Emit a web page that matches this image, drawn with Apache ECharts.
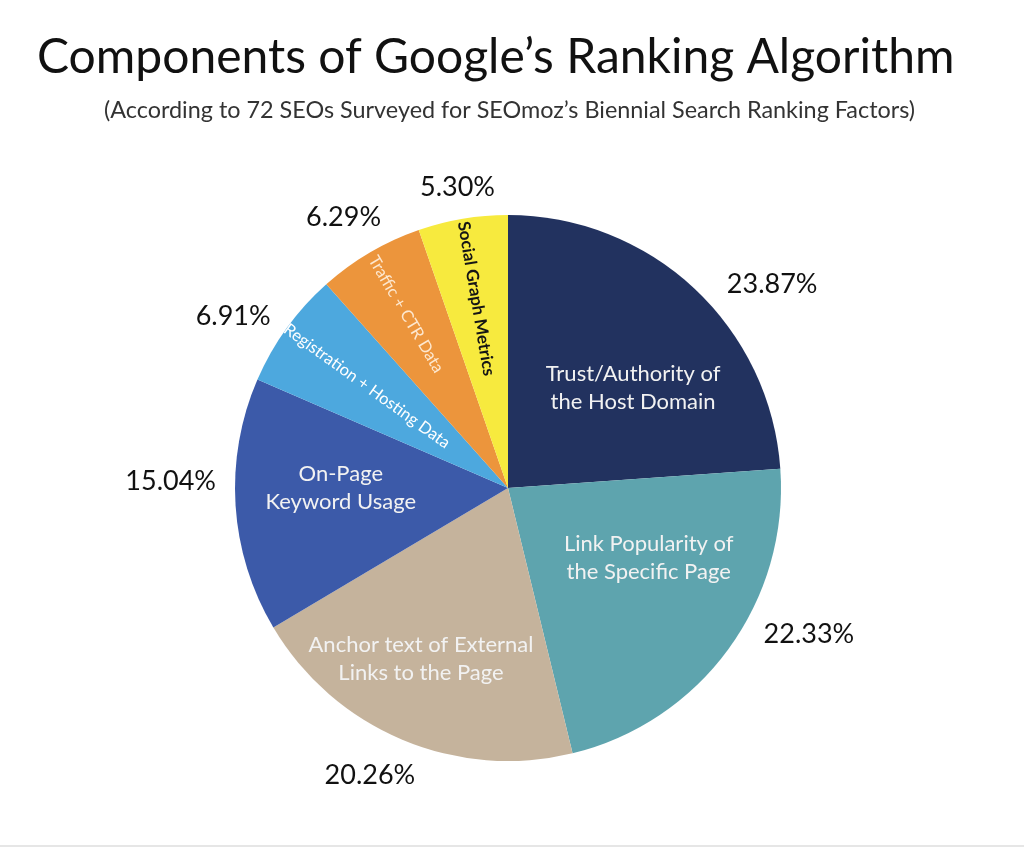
<!DOCTYPE html>
<html><head><meta charset="utf-8">
<script src="https://cdn.jsdelivr.net/npm/echarts@6/dist/echarts.min.js"></script>
<style>html,body{margin:0;padding:0;background:#fff}#c{width:1024px;height:847px}</style>
</head><body><div id="c"></div>
<script>
const categories = [
  'Trust/Authority of\nthe Host Domain',
  'Link Popularity of\nthe Specific Page',
  'Anchor text of External\nLinks to the Page',
  'On-Page\nKeyword Usage',
  'Registration + Hosting Data',
  'Traffic + CTR Data',
  'Social Graph Metrics'
];
const values = [23.87, 22.33, 20.26, 15.04, 6.91, 6.29, 5.30];
const percentLabels = ['23.87%', '22.33%', '20.26%', '15.04%', '6.91%', '6.29%', '5.30%'];

const sliceColors = ['#22325f', '#5ea4ae', '#c5b39c', '#3c5aa9', '#4da8de', '#ec953c', '#f7ea3e'];
const FONT = 'Lato';
// inner label styles (radial labels pushed outward with right padding)
const innerStyle = [
  {rotate: 0, fontSize: 22, color: '#f2f2f2'},
  {rotate: 0, fontSize: 22, color: '#f2f2f2'},
  {rotate: 0, fontSize: 22, color: '#f2f2f2'},
  {rotate: 0, fontSize: 22, color: '#f2f2f2'},
  {rotate: 'radial', fontSize: 16.5, color: '#ffffff', padding: [0, 69, 0, 0]},
  {rotate: 'radial', fontSize: 16.5, color: '#fde8d0', padding: [0, 124, 0, 0]},
  {rotate: 'radial', fontSize: 17, color: '#151515', fontWeight: 'bold', padding: [0, 105, 0, 0]}
];
// label nudges in pixels [dx, dy]
const innerShift = [[30, 2], [28, -12], [-33, 42], [-28, -9], [0, 0], [0, 0], [0, 0]];
const outerShift = [[44, 33], [40, -44], [-13, -10], [-15, -27], [-13, 17], [-1, 8], [3, 18]];
const CENTER = [508, 488];
const R = 273;

const mainData = categories.map((c, i) => ({
  name: c, value: values[i],
  itemStyle: {color: sliceColors[i]},
  label: Object.assign({show: true, position: 'inside', fontFamily: FONT, lineHeight: 28}, innerStyle[i])
}));
const outerData = categories.map((c, i) => ({
  name: percentLabels[i], value: values[i],
  label: {show: true, position: 'inside', formatter: '{b}', fontFamily: FONT, fontSize: 27, color: '#111'}
}));

const chart = echarts.init(document.getElementById('c'), null, {renderer: 'canvas'});
chart.setOption({
  backgroundColor: '#ffffff',
  animation: false,
  title: [
    {text: 'Components of Google\u2019s Ranking Algorithm', left: 32, top: 29,
     textStyle: {fontFamily: FONT, fontSize: 48, fontWeight: 'normal', color: '#111'}},
    {text: '(According to 72 SEOs Surveyed for SEOmoz\u2019s Biennial Search Ranking Factors)', left: 99, top: 94,
     textStyle: {fontFamily: FONT, fontSize: 23.4, fontWeight: 'normal', color: '#333'}}
  ],
  graphic: [{type: 'rect', left: 0, bottom: 0, shape: {width: 1024, height: 2}, style: {fill: '#e6e6e6'}}],
  series: [
    {type: 'pie', center: CENTER, radius: [0, R], startAngle: 90, clockwise: true,
     avoidLabelOverlap: false, labelLine: {show: false}, emphasis: {disabled: true},
     itemStyle: {borderWidth: 0}, data: mainData, z: 2,
     labelLayout: p => ({dx: innerShift[p.dataIndex][0], dy: innerShift[p.dataIndex][1], hideOverlap: false})},
    {type: 'pie', center: CENTER, radius: [0, 2 * 320], startAngle: 90, clockwise: true,
     silent: true, avoidLabelOverlap: false, labelLine: {show: false}, emphasis: {disabled: true},
     itemStyle: {color: 'rgba(0,0,0,0)', borderWidth: 0}, data: outerData, z: 3,
     labelLayout: p => ({dx: outerShift[p.dataIndex][0], dy: outerShift[p.dataIndex][1], hideOverlap: false})}
  ]
});
</script>
</body></html>
